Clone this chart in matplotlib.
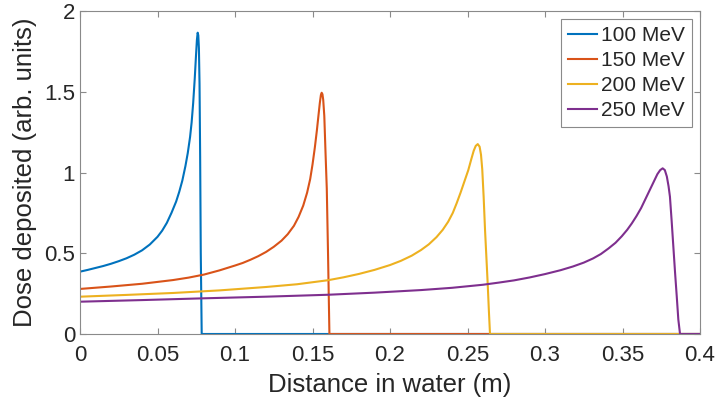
import matplotlib
matplotlib.use("Agg")
import matplotlib.pyplot as plt

plt.rcParams["font.family"] = ["Liberation Sans", "DejaVu Sans"]

# depth (m) and dose (arb. units)
x_100 = [0, 0.005, 0.01, 0.015, 0.02, 0.025, 0.03, 0.035, 0.04, 0.045, 0.05, 0.053,
         0.056, 0.059, 0.062, 0.064, 0.066, 0.068, 0.0695, 0.071, 0.072, 0.073,
         0.074, 0.0748, 0.0754, 0.0759, 0.0763, 0.0767, 0.0771, 0.0775, 0.0779,
         0.0785, 0.4]
y_100 = [0.386, 0.397, 0.409, 0.421, 0.435, 0.451, 0.469, 0.491, 0.518, 0.554, 0.602, 0.64,
         0.688, 0.75, 0.82, 0.88, 0.95, 1.04, 1.12, 1.22, 1.31, 1.43,
         1.58, 1.72, 1.82, 1.866, 1.85, 1.77, 1.55, 1.1, 0.5,
         0, 0]

x_150 = [0, 0.02, 0.04, 0.06, 0.07, 0.08, 0.09, 0.1, 0.105, 0.11, 0.115, 0.12, 0.125,
         0.13, 0.134, 0.138, 0.141, 0.144, 0.1465, 0.1485, 0.150, 0.1515, 0.1528,
         0.1538, 0.1547, 0.1554, 0.1559, 0.1564, 0.1569, 0.1576, 0.1584, 0.1592,
         0.1600, 0.1609, 0.4]
y_150 = [0.279, 0.294, 0.311, 0.334, 0.349, 0.368, 0.394, 0.424, 0.44, 0.46, 0.482, 0.508, 0.54,
         0.578, 0.618, 0.67, 0.725, 0.795, 0.875, 0.96, 1.05, 1.155, 1.26,
         1.35, 1.43, 1.48, 1.494, 1.485, 1.45, 1.35, 1.12, 0.9,
         0.5, 0, 0]

x_200 = [0, 0.03, 0.06, 0.09, 0.12, 0.14, 0.16, 0.17, 0.18, 0.19, 0.2, 0.207, 0.214,
         0.22, 0.225, 0.23, 0.234, 0.2375, 0.2405, 0.243, 0.2455, 0.248, 0.2505,
         0.2525, 0.254, 0.2553, 0.2566, 0.2578, 0.2587, 0.2595, 0.2604, 0.2613,
         0.2622, 0.263, 0.2638, 0.2645, 0.4]
y_200 = [0.231, 0.242, 0.254, 0.27, 0.291, 0.308, 0.333, 0.351, 0.372, 0.397, 0.427, 0.453, 0.485,
         0.52, 0.555, 0.6, 0.645, 0.695, 0.75, 0.81, 0.875, 0.945, 1.015,
         1.085, 1.135, 1.165, 1.176, 1.16, 1.11, 1.02, 0.85, 0.644,
         0.47, 0.314, 0.14, 0, 0]

x_250 = [0, 0.04, 0.08, 0.12, 0.16, 0.19, 0.22, 0.24, 0.26, 0.27, 0.28, 0.29, 0.30,
         0.31, 0.318, 0.325, 0.331, 0.336, 0.341, 0.3455, 0.3495, 0.353, 0.356,
         0.359, 0.362, 0.365, 0.368, 0.3705, 0.3725, 0.3743, 0.3759, 0.3773,
         0.3786, 0.3797, 0.3806, 0.3817, 0.3828, 0.3839, 0.385, 0.386, 0.3871, 0.4]
y_250 = [0.2, 0.21, 0.221, 0.231, 0.243, 0.256, 0.272, 0.286, 0.305, 0.318, 0.332, 0.35, 0.371,
         0.395, 0.418, 0.442, 0.468, 0.495, 0.53, 0.565, 0.605, 0.645, 0.685,
         0.73, 0.78, 0.84, 0.9, 0.95, 0.99, 1.015, 1.026, 1.015,
         0.975, 0.915, 0.85, 0.7, 0.54, 0.38, 0.231, 0.09, 0, 0]

labels = ["100 MeV", "150 MeV", "200 MeV", "250 MeV"]
colors = ["#0072BD", "#D95319", "#EDB120", "#7E2F8E"]
xticks = [0, 0.05, 0.1, 0.15, 0.2, 0.25, 0.3, 0.35, 0.4]
xticklabels = ["0", "0.05", "0.1", "0.15", "0.2", "0.25", "0.3", "0.35", "0.4"]
yticks = [0, 0.5, 1, 1.5, 2]
yticklabels = ["0", "0.5", "1", "1.5", "2"]

fig = plt.figure(figsize=(7.19, 4.09), dpi=100)
ax = fig.add_axes([0.1113, 0.1834, 0.8623, 0.7896])

series = [(x_100, y_100), (x_150, y_150), (x_200, y_200), (x_250, y_250)]
for (xs, ys), lab, c in zip(series, labels, colors):
    ax.plot(xs, ys, color=c, lw=1.5, label=lab)

ax.set_xlim(0, 0.4)
ax.set_ylim(0, 2)
ax.set_xticks(xticks)
ax.set_xticklabels(xticklabels)
ax.set_yticks(yticks)
ax.set_yticklabels(yticklabels)

edge = "#8a8a8a"
txt = "#262626"
for s in ax.spines.values():
    s.set_color(edge)
    s.set_linewidth(0.8)
ax.tick_params(direction="in", length=4.5, width=0.8, color=edge,
               labelcolor=txt, labelsize=16, top=True, right=True)
ax.tick_params(axis="x", pad=8)
ax.tick_params(axis="y", pad=3.5)

ax.set_xlabel("Distance in water (m)", fontsize=18.5, color=txt, labelpad=5)
ax.set_ylabel("Dose deposited (arb. units)", fontsize=18.5, color=txt, labelpad=5)

leg = ax.legend(loc="upper right", bbox_to_anchor=(0.9866, 0.975), borderaxespad=0,
                fontsize=15, handlelength=1.4, handletextpad=0.15,
                labelspacing=0.28, borderpad=0.35, fancybox=False, framealpha=1)
leg.get_frame().set_edgecolor(edge)
leg.get_frame().set_linewidth(0.8)
for t in leg.get_texts():
    t.set_color(txt)

fig.savefig("out.png", dpi=100)
